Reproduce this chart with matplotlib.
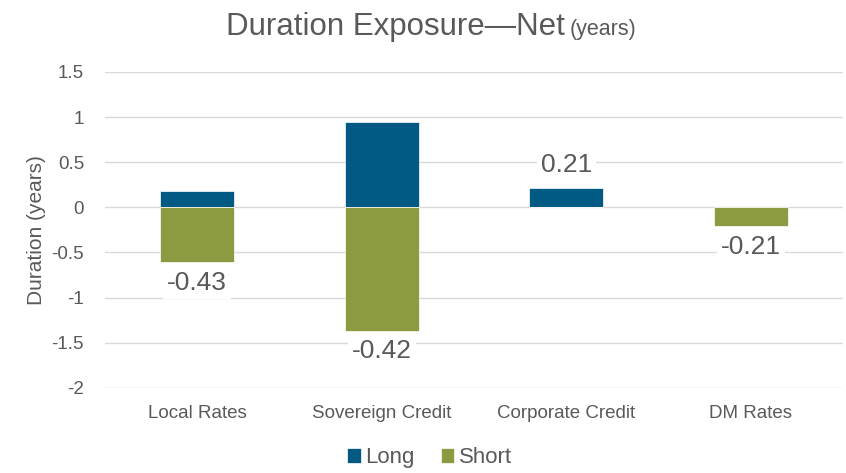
import matplotlib.pyplot as plt
import numpy as np

plt.rcParams['font.family'] = ['Liberation Sans', 'DejaVu Sans']

categories = ['Local Rates', 'Sovereign Credit', 'Corporate Credit', 'DM Rates']
long_vals = [0.18, 0.95, 0.21, 0.0]
short_vals = [-0.61, -1.37, 0.0, -0.21]
net_labels = ['-0.43', '-0.42', '0.21', '-0.21']

c_long = '#005a84'
c_short = '#8c9a42'
c_text = '#595959'
c_grid = '#d9d9d9'

fig = plt.figure(figsize=(8.46, 4.73), dpi=100)
ax = fig.add_axes([0.124, 0.180, 0.8725, 0.668])

x = np.arange(len(categories))
ax.bar(x, long_vals, width=0.4, color=c_long, edgecolor='white', linewidth=0.5, label='Long', zorder=3)
ax.bar(x, short_vals, width=0.4, color=c_short, edgecolor='white', linewidth=0.5, label='Short', zorder=3)

# net labels at the end of the bar in the direction of the net value
for i in range(len(categories)):
    net = long_vals[i] + short_vals[i]
    if net >= 0:
        y, off, va = long_vals[i], 8, 'bottom'
    else:
        y, off, va = short_vals[i], -6, 'top'
    ax.annotate(net_labels[i], (x[i], y), xytext=(0, off), textcoords='offset points',
                ha='center', va=va, fontsize=19, color=c_text, zorder=4,
                bbox=dict(boxstyle='square,pad=0.15', fc='white', ec='none'))

ax.set_xlim(-0.5, 3.5)
ax.set_ylim(-2, 1.5)
ax.set_yticks([1.5, 1, 0.5, 0, -0.5, -1, -1.5, -2])
ax.set_yticklabels(['1.5', '1', '0.5', '0', '-0.5', '-1', '-1.5', '-2'])
ax.set_xticks(x)
ax.set_xticklabels(categories)
ax.tick_params(length=0, labelsize=13.5, labelcolor=c_text, pad=12)
ax.tick_params(axis='y', pad=15)
ax.yaxis.grid(True, color=c_grid, linewidth=1, zorder=0)
ax.set_axisbelow(True)
for s in ax.spines.values():
    s.set_visible(False)

ax.set_ylabel('Duration (years)', fontsize=15, color=c_text, labelpad=4)

fig.text(0.668, 0.926, 'Duration Exposure\u2014Net', fontsize=22.5, color=c_text, ha='right', va='baseline')
fig.text(0.673, 0.926, '(years)', fontsize=15.5, color=c_text, ha='left', va='baseline')

ax.legend(loc='upper center', bbox_to_anchor=(0.44, -0.125), ncol=2, frameon=False,
          fontsize=16, labelcolor=c_text, handlelength=0.6, handleheight=0.6,
          handletextpad=0.2, columnspacing=1.2)

fig.savefig('out.png', dpi=100)
